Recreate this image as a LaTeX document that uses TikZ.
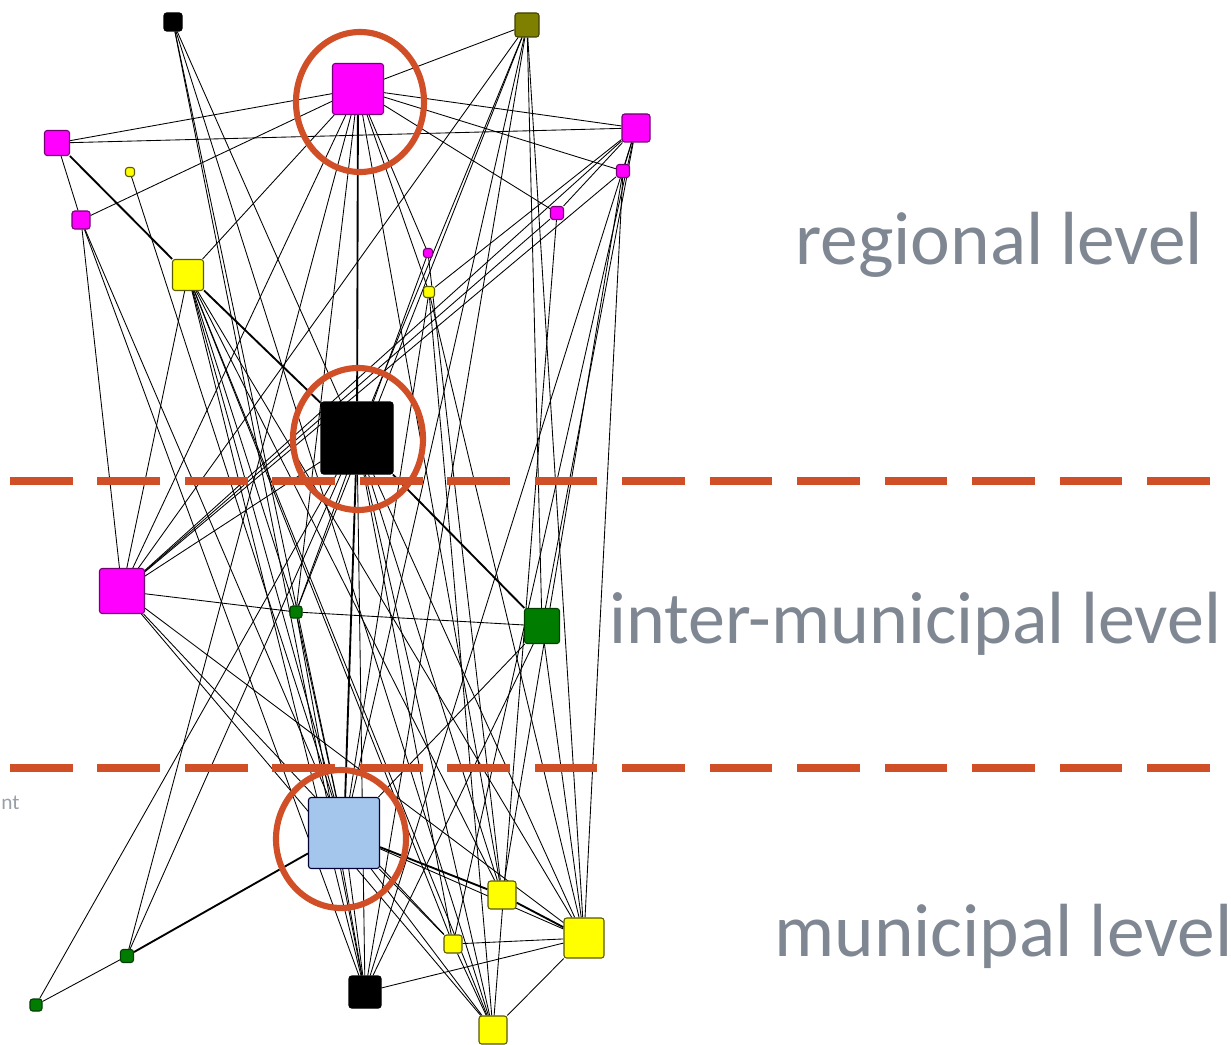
\documentclass[tikz,border=0pt]{standalone}
\usepackage{fontspec}
\setmainfont{Carlito}
\usetikzlibrary{positioning, backgrounds}
\definecolor{ringred}{RGB}{209,79,39}
\definecolor{lvlgray}{RGB}{127,135,146}
\definecolor{paleblue}{RGB}{164,198,236}
\definecolor{darkgreen}{RGB}{0,125,0}
\definecolor{olivebox}{RGB}{128,128,0}
\definecolor{pinkbox}{RGB}{255,0,255}
\definecolor{yellowbox}{RGB}{255,255,0}
\tikzset{
    x=0.75pt, y=-0.75pt, % one unit is one pixel of the screenshot
    actor/.style={rectangle, rounded corners=2pt, line width=0.8pt, minimum size=#1*0.75pt, inner sep=0pt}, % every actor is a square box
    mag/.style={actor=#1, fill=pinkbox, draw=pinkbox!45!black},
    yel/.style={actor=#1, fill=yellowbox, draw=yellowbox!35!black},
    blk/.style={actor=#1, fill=black, draw=black},
    grn/.style={actor=#1, fill=darkgreen, draw=darkgreen!50!black},
    olv/.style={actor=#1, fill=olivebox, draw=olivebox!50!black},
    blu/.style={actor=#1, fill=paleblue, draw=black!80!blue},
    tie/.style={line width=0.65pt, black}, % plain tie between two actors
    strong/.style={line width=1.4pt, black}, % heavier tie
    ring/.style={draw=ringred, line width=4.6pt}, % the red circles
    cut/.style={draw=ringred, line width=5.4pt, dash pattern=on 47pt off 18.6pt}, % level borders
    lvl/.style={text=lvlgray, font=\fontsize{56.5}{60}\selectfont, inner sep=0pt, anchor=base west},
}
\begin{document}
\begin{tikzpicture}
    \useasboundingbox (0,0) rectangle (1231,1045);
    % regional level
    \node[blk=18] (rB) at (173,22) {};
    \node[olv=24] (rO) at (527,25) {};
    \node[mag=51] (rM) at (358,89) {};
    \node[mag=25] (rML) at (57,143) {};
    \node[mag=28] (rMR) at (636,128) {};
    \node[yel=9] (rYs) at (130,172) {};
    \node[mag=13] (rMR2) at (623,171) {};
    \node[mag=18] (rML2) at (81,220) {};
    \node[mag=13] (rMs) at (557,213) {};
    \node[mag=9] (rMt) at (428,253) {};
    \node[yel=11] (rYt) at (429,292) {};
    \node[yel=31] (rY) at (188,275) {};
    \node[blk=72] (hub) at (357,438) {};
    % inter-municipal level
    \node[mag=45] (iM) at (122,591) {};
    \node[grn=12] (iGs) at (296,612) {};
    \node[grn=35] (iG) at (542,626) {};
    % municipal level
    \node[blu=71] (mB) at (344,833) {};
    \node[yel=28] (mY1) at (502,895) {};
    \node[yel=40] (mY2) at (584,938) {};
    \node[yel=18] (mY3) at (453,944) {};
    \node[grn=13] (mG1) at (127,956) {};
    \node[grn=12] (mG2) at (36,1005) {};
    \node[blk=32] (mK) at (365,992) {};
    \node[yel=28] (mY4) at (493,1030) {};

    \begin{scope}[on background layer]
        \draw[tie]
        (rO) edge (rM) (rO) edge (hub) (rO) edge (iM) (rO) edge (mB)
        (rO) edge (iGs) (rO) edge (iG) (rO) edge (mY2) (rO) edge (mK)
        (rB) edge (hub) (rB) edge (mB) (rB) edge (mK) (rB) edge (mY4)
        (rM) edge (rML) (rM) edge (rMR) (rM) edge (rMR2) (rM) edge (rMs)
        (rM) edge (rML2) (rM) edge (rY) (rM) edge (rMt) (rM) edge (rYt)
        (rM) edge (iM) (rM) edge (iGs) (rM) edge (mG1) (rM) edge (mY1)
        (rML) edge (rMR) (rML) edge (rML2)
        (rMR) edge (rMs) (rMR) edge (rMR2) (rMR) edge (iM) (rMR) edge (mK)
        (rMR) edge (mY3) (rMR) edge (iG) (rMR) edge (rYt)
        (rMR2) edge (iM) (rMR2) edge (mY1) (rMR2) edge (mY2)
        (rMs) edge (iM) (rMs) edge (mY4)
        (rML2) edge (iM) (rML2) edge (mB) (rML2) edge (mK)
        (rYs) edge (mB) (rMt) edge (iGs) (rMt) edge (mY1)
        (rYt) edge (mY4) (rYt) edge (mB) (rYt) edge (mY2)
        (rY) edge (iM) (rY) edge (mB) (rY) edge (mK) (rY) edge (mY1)
        (rY) edge (mY3) (rY) edge (mY4) (rY) edge (iGs) (rY) edge (mY2)
        (hub) edge (iM) (hub) edge (mK) (hub) edge (mY1) (hub) edge (mY2)
        (hub) edge (mY4) (hub) edge (mG1) (hub) edge (mG2) (hub) edge (mY3)
        (iM) edge (iGs) (iM) edge (mY4) (iM) edge (mY2) (iM) edge (mY3)
        (iGs) edge (iG) (iGs) edge (mB) (iGs) edge (mK)
        (iG) edge (mB) (iG) edge (mK) (iG) edge (mY2)
        (mB) edge (mY2) (mB) edge (mK) (mB) edge (mY4) (mB) edge (mY3)
        (mG1) edge (mG2) (mY3) edge (mY2) (mY3) edge (mY4)
        (mK) edge (mY2) (mY2) edge (mY4);
        \draw[strong]
        (rML) edge (rY) (rY) edge (hub) (rM) edge (hub) (hub) edge (mB)
        (hub) edge (iG) (mB) edge (mY1) (mB) edge (mG1) (mY1) edge (mY2);
    \end{scope}

    % highlighted actors
    \draw[ring] (360,102) ellipse (64 and 70);
    \draw[ring] (358,439) ellipse (65 and 71);
    \draw[ring] (341,839) ellipse (65 and 69);

    % borders between levels
    \coordinate (cutA1) at (10,481);
    \coordinate (cutA2) at (1231,481);
    \coordinate (cutB1) at (10,768);
    \coordinate (cutB2) at (1231,768);
    \draw[cut] (cutA1) -- (cutA2);
    \draw[cut] (cutB1) -- (cutB2);

    \node[lvl] (regLvl) at (795,264) {regional level};
    \node[lvl, font=\fontsize{55.5}{60}\selectfont] (interLvl) at (609,643) {inter-municipal level};
    \node[lvl] (munLvl) at (774,956) {municipal level};
    \node[text=lvlgray!80, font=\fontsize{16}{19}\selectfont, inner sep=0pt, anchor=base west] (cutText) at (1,809) {nt};
\end{tikzpicture}
\end{document}
